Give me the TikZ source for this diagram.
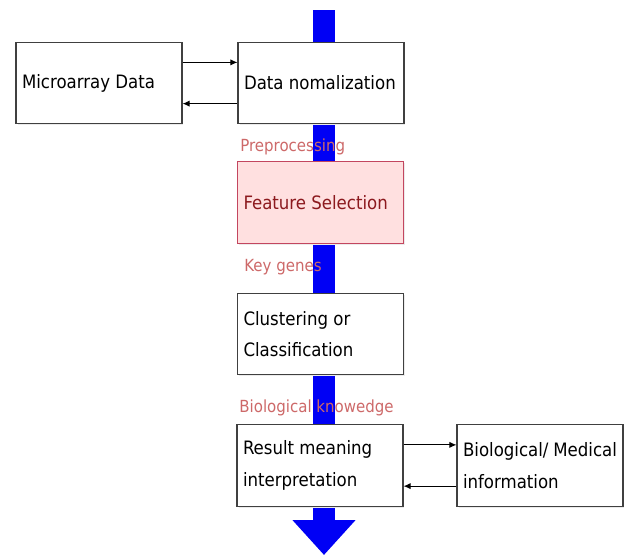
\documentclass[tikz,border=0pt]{standalone}
\usepackage{fontspec}
\setmainfont{DejaVu Sans Condensed}
\usepackage{tikz}
\usetikzlibrary{positioning, calc, arrows.meta, shadows}
\definecolor{flowblue}{RGB}{0,0,245}
\definecolor{labelred}{RGB}{205,105,105}
\definecolor{selfill}{RGB}{255,224,224}
\definecolor{seldraw}{RGB}{195,70,95}
\definecolor{seltext}{RGB}{140,25,30}

\tikzset{
  stepbox/.style={draw=black!75, fill=white, line width=0.6pt,
    minimum width=3.32cm, minimum height=1.63cm, text width=3.08cm,
    align=flush left, inner xsep=0.12cm, inner ysep=0.14cm,
    font=\fontsize{10.5}{18}\selectfont,
    drop shadow={shadow xshift=0.03cm, shadow yshift=-0.03cm, fill=black!8, opacity=1}},
  flowlabel/.style={anchor=west, inner sep=0pt, text=labelred,
    font=\fontsize{9.5}{11}\selectfont},
  link/.style={-{Latex[length=4pt,width=3.5pt]}, line width=0.6pt}
}

\begin{document}
\begin{tikzpicture}[x=0.02cm, y=-0.02cm]
  \useasboundingbox (0,0) rectangle (625,555);

  % main flow bar behind the boxes
  \coordinate (top) at (324,10);
  \coordinate (bottom) at (324,555);
  \draw[flowblue, line width=0.44cm,
    -{Triangle[length=0.7cm, width=1.22cm]}] (top) -- (bottom);

  \node[stepbox] (micro) at (99,83) {Microarray Data};
  \node[stepbox] (norm) at (321,83) {Data nomalization};
  \node[stepbox, fill=selfill, draw=seldraw, text=seltext] (featsel) at (320.5,202.5) {Feature Selection};
  \node[stepbox] (clust) at (320.5,334) {Clustering or\\Classification};
  \node[stepbox] (result) at (320,465.5) {Result meaning\\interpretation};
  \node[stepbox] (bio) at (540,465.5) {Biological/ Medical\\information};

  \node[flowlabel] (prep) at (240,147) {Preprocessing};
  \node[flowlabel] (genes) at (244,267) {Key genes};
  \node[flowlabel] (know) at (239,408) {Biological knowedge};

  \draw[link] ($(micro.north east)!0.25!(micro.south east)$) -- ($(norm.north west)!0.25!(norm.south west)$);
  \draw[link] ($(norm.north west)!0.75!(norm.south west)$) -- ($(micro.north east)!0.75!(micro.south east)$);
  \draw[link] ($(result.north east)!0.25!(result.south east)$) -- ($(bio.north west)!0.25!(bio.south west)$);
  \draw[link] ($(bio.north west)!0.75!(bio.south west)$) -- ($(result.north east)!0.75!(result.south east)$);
\end{tikzpicture}
\end{document}
